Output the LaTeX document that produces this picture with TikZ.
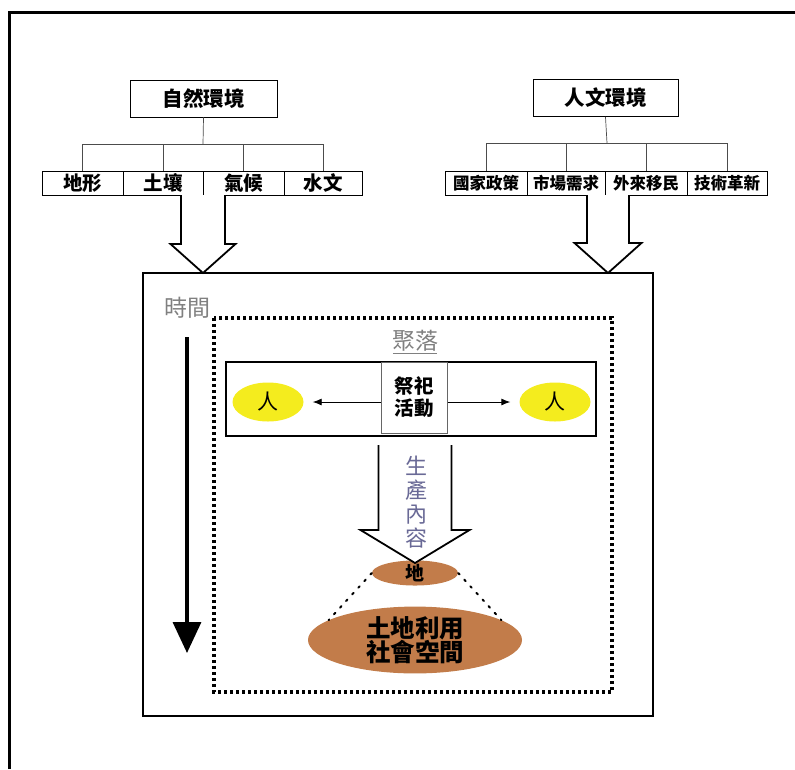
\documentclass[tikz,border=0pt]{standalone}
\usepackage{fontspec}
\setmainfont{Noto Sans CJK TC}
\usetikzlibrary{shapes.geometric,arrows.meta,calc}
\definecolor{brownfill}{RGB}{194,124,74}
\definecolor{yfill}{RGB}{244,236,30}
\definecolor{graytxt}{RGB}{128,128,128}
\definecolor{bluegray}{RGB}{105,105,150}
\newcommand{\hollowdown}[5]{%
  \draw[hollow] ($(#1)+(-#3,0)$) -- ($(#2)+(-#3,-#5)$) -- ($(#2)+(-#4,-#5)$) -- (#2)
    -- ($(#2)+(#4,-#5)$) -- ($(#2)+(#3,-#5)$) -- ($(#1)+(#3,0)$);}
\begin{document}
\begin{tikzpicture}[x=1pt,y=-1pt,
  topbox/.style={draw, line width=0.9pt, minimum width=147, minimum height=37, inner sep=0,
    font=\bfseries\fontsize{20.5}{22}\selectfont},
  cell/.style={draw, line width=0.8pt, minimum height=24, inner sep=0,
    font=\bfseries\fontsize{19.5}{20}\selectfont},
  cellr/.style={cell, font=\bfseries\fontsize{16.5}{18}\selectfont},
  tree/.style={draw=black!70, line width=0.7pt},
  hollow/.style={draw, line width=1.8pt, fill=white, line join=miter},
  person/.style={ellipse, fill=yfill, minimum width=71, minimum height=39, inner sep=0,
    font=\fontsize{21}{22}\selectfont},
  land/.style={ellipse, fill=brownfill, inner sep=0},
  sparse/.style={line width=2pt, dash pattern=on 2pt off 7pt, line cap=round}
]
\useasboundingbox (0,0) rectangle (795,769);
% outer frame (top and left)
\draw[line width=3pt] (9,769) -- (9,12) -- (795,12);

% left tree
\node[topbox] (nat) at (203.5,98.5) {自然環境};
\node[cell, minimum width=81] (n1) at (82.5,183) {地形};
\node[cell, minimum width=80] (n2) at (163,183) {土壤};
\node[cell, minimum width=81] (n3) at (243.5,183) {氣候};
\node[cell, minimum width=78] (n4) at (323,183) {水文};
\coordinate (nj) at (203,144);
\draw[tree] (nat.south) -- (nj);
\foreach \c in {n1,n2,n3,n4} \draw[tree] (\c.north) |- (nj);

% right tree
\node[topbox, minimum width=145] (hum) at (605.5,98) {人文環境};
\node[cellr, minimum width=82] (h1) at (486,183) {國家政策};
\node[cellr, minimum width=78] (h2) at (566,183) {市場需求};
\node[cellr, minimum width=82] (h3) at (646,183) {外來移民};
\node[cellr, minimum width=80] (h4) at (727,183) {技術革新};
\coordinate (hj) at (607,143);
\draw[tree] (hum.south) -- (hj);
\foreach \c in {h1,h2,h3,h4} \draw[tree] (\c.north) |- (hj);

% main box
\node[draw, line width=2.6pt, minimum width=510, minimum height=443, inner sep=0] (main) at (398,494.5) {};

% hollow arrows into main box
\coordinate (la) at (203,195);
\coordinate (lt) at (203,273);
\hollowdown{la}{lt}{22}{32.5}{29}
\coordinate (ra) at (608,195);
\coordinate (rt) at (608,273);
\hollowdown{ra}{rt}{21}{33.5}{30}

% time
\node[text=graytxt, font=\fontsize{23}{25}\selectfont, inner sep=0] (time) at (187,308) {時間};
\coordinate (ts) at (187,337);
\coordinate (te) at (187,653);
\draw[line width=3.5pt, -{Triangle[width=28pt,length=31pt]}] (ts) -- (te);

% settlement dotted box
\draw[line width=3.2pt, dash pattern=on 2.6pt off 3.4pt] (214,318) rectangle (612,692);
\node[text=graytxt, font=\fontsize{23}{25}\selectfont, inner sep=1pt] (jl) at (415,341) {聚落};
\draw[graytxt, line width=0.8pt] ($(jl.south west)+(2,1)$) -- ($(jl.south east)+(-2,1)$);

% people row
\node[draw, line width=1.2pt, minimum width=370, minimum height=74, inner sep=0] (row) at (411,399) {};
\node[draw=black!60, line width=1pt, fill=white, minimum width=66, minimum height=71, inner sep=0,
  align=center, font=\bfseries\fontsize{19.5}{22}\selectfont] (rit) at (414,397.5) {祭祀\\活動};
\node[person] (pl) at (268,402) {人};
\node[person] (pr) at (555,402) {人};
\draw[line width=0.9pt, -{Latex[length=9pt,width=7pt]}, shorten >=9pt] (rit.west |- pl.east) -- (pl.east);
\draw[line width=0.9pt, -{Latex[length=9pt,width=7pt]}, shorten >=9pt] (rit.east |- pr.west) -- (pr.west);

% land
\node[land, minimum width=86, minimum height=23, font=\bfseries\fontsize{19}{20}\selectfont] (di) at (415,573) {地};
\node[land, minimum width=214, minimum height=64, align=center,
  font=\bfseries\fontsize{24.5}{24}\selectfont] (use) at (415,640) {土地利用\\社會空間};
\draw[sparse] (di.west) -- (use.167);
\draw[sparse] (di.east) -- (use.13);

% production arrow
\coordinate (pa) at (415,445);
\coordinate (pt) at (415,563);
\hollowdown{pa}{pt}{36.5}{54.5}{33}
\node[text=bluegray, align=center, inner sep=0, font=\fontsize{22}{24}\selectfont] (prod) at (416,502) {生\\產\\內\\容};
\end{tikzpicture}
\end{document}
